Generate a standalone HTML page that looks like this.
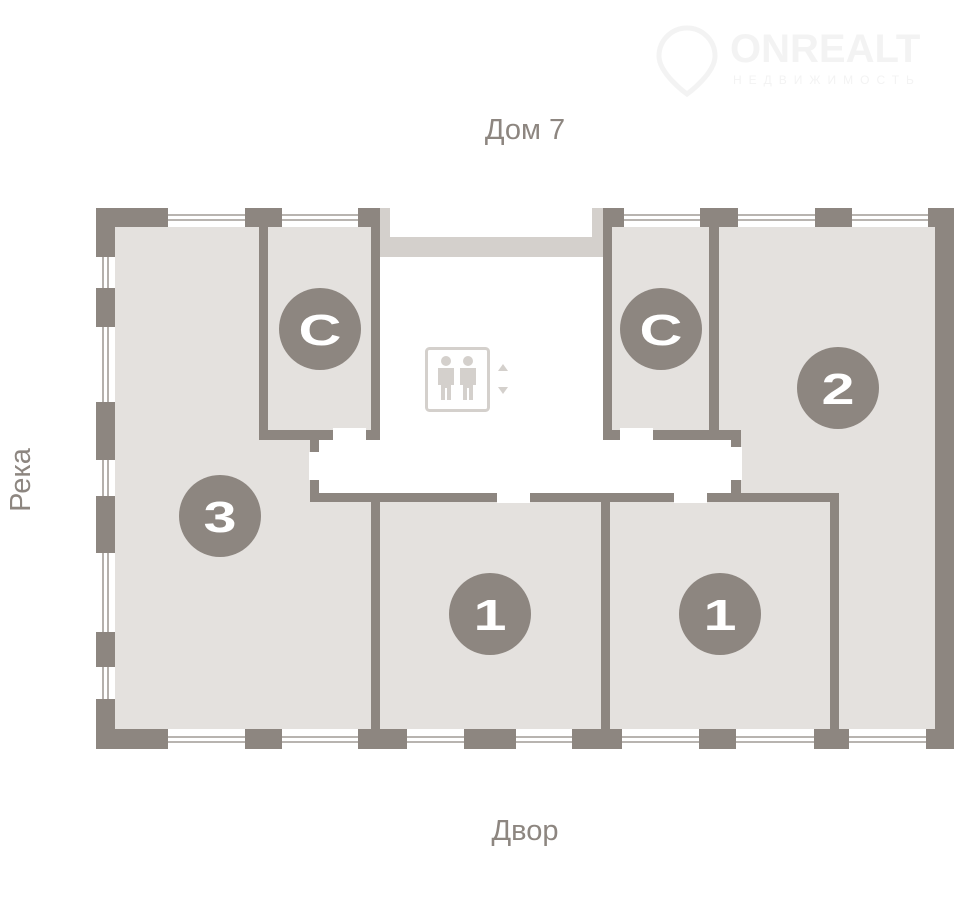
<!DOCTYPE html>
<html><head><meta charset="utf-8"><style>
html,body{margin:0;padding:0;background:#fff;}
svg{display:block;}
text{font-family:"Liberation Sans",sans-serif;}
</style></head><body>
<svg width="960" height="910" viewBox="0 0 960 910" xmlns="http://www.w3.org/2000/svg">
<!-- watermark -->
<g fill="#f3f3f3">
<text x="730" y="62" font-size="40" font-weight="bold">ONREALT</text>
<text x="733" y="84" font-size="12" letter-spacing="7">НЕДВИЖИМОСТЬ</text>
<path d="M687 28 a28 28 0 0 1 28 28 c0 18 -28 38 -28 38 c0 0 -28 -20 -28 -38 a28 28 0 0 1 28 -28z" fill="none" stroke="#f3f3f3" stroke-width="5"/>
</g>
<!-- labels -->
<text x="525" y="139" font-size="29" fill="#8d8680" text-anchor="middle">Дом 7</text>
<text x="525" y="840" font-size="29" fill="#8d8680" text-anchor="middle">Двор</text>
<text transform="translate(30,480) rotate(-90)" font-size="29" fill="#8d8680" text-anchor="middle">Река</text>

<!-- floor -->
<rect x="115" y="227" width="820" height="502" fill="#e4e1de"/>
<!-- white hall areas -->
<rect x="380" y="208" width="223" height="232" fill="#fff"/>
<rect x="319" y="440" width="412" height="53" fill="#fff"/>
<rect x="333" y="428" width="33" height="14" fill="#fff"/>
<rect x="620" y="428" width="33" height="14" fill="#fff"/>
<rect x="309" y="452" width="12" height="28" fill="#fff"/>
<rect x="730" y="447" width="12" height="33" fill="#fff"/>
<rect x="497" y="492" width="33" height="11" fill="#fff"/>
<rect x="674" y="492" width="33" height="11" fill="#fff"/>
<!-- gray band -->
<g fill="#d4d0cc">
<rect x="380" y="208" width="10" height="30"/>
<rect x="380" y="237" width="223" height="20"/>
<rect x="592" y="208" width="11" height="30"/>
</g>
<!-- window lines -->
<g stroke="#8d8680" stroke-width="1.3" fill="none">
<path d="M168 215H245M168 220H245M282 215H358M282 220H358M624 215H700M624 220H700M738 215H815M738 220H815M852 215H928M852 220H928"/>
<path d="M168 737H245M168 742H245M282 737H358M282 742H358M407 737H464M407 742H464M516 737H572M516 742H572M622 737H699M622 742H699M736 737H814M736 742H814M849 737H926M849 742H926"/>
<path d="M103 257V288M108 257V288M103 327V402M108 327V402M103 460V496M108 460V496M103 553V632M108 553V632M103 667V699M108 667V699"/>
</g>
<!-- walls -->
<g fill="#8d8680">
<rect x="96" y="208" width="19" height="49"/>
<rect x="96" y="288" width="19" height="39"/>
<rect x="96" y="402" width="19" height="58"/>
<rect x="96" y="496" width="19" height="57"/>
<rect x="96" y="632" width="19" height="35"/>
<rect x="96" y="699" width="19" height="50"/>
<rect x="96" y="208" width="72" height="19"/>
<rect x="245" y="208" width="37" height="19"/>
<rect x="358" y="208" width="22" height="19"/>
<rect x="603" y="208" width="21" height="19"/>
<rect x="700" y="208" width="38" height="19"/>
<rect x="815" y="208" width="37" height="19"/>
<rect x="928" y="208" width="26" height="19"/>
<rect x="935" y="208" width="19" height="541"/>
<rect x="96" y="729" width="72" height="20"/>
<rect x="245" y="729" width="37" height="20"/>
<rect x="358" y="729" width="49" height="20"/>
<rect x="464" y="729" width="52" height="20"/>
<rect x="572" y="729" width="50" height="20"/>
<rect x="699" y="729" width="37" height="20"/>
<rect x="814" y="729" width="35" height="20"/>
<rect x="926" y="729" width="28" height="20"/>
<!-- left C -->
<rect x="259" y="227" width="9" height="213"/>
<rect x="371" y="208" width="9" height="232"/>
<rect x="259" y="430" width="74" height="10"/>
<rect x="366" y="430" width="14" height="10"/>
<rect x="310" y="438" width="9" height="14"/>
<rect x="310" y="480" width="9" height="22"/>
<!-- middle horizontal -->
<rect x="310" y="493" width="187" height="9"/>
<rect x="530" y="493" width="144" height="9"/>
<rect x="707" y="493" width="132" height="9"/>
<rect x="371" y="493" width="9" height="236"/>
<rect x="601" y="493" width="9" height="236"/>
<rect x="830" y="493" width="9" height="236"/>
<!-- right C -->
<rect x="603" y="208" width="9" height="232"/>
<rect x="709" y="208" width="10" height="232"/>
<rect x="603" y="430" width="17" height="10"/>
<rect x="653" y="430" width="88" height="10"/>
<rect x="731" y="430" width="10" height="17"/>
<rect x="731" y="480" width="10" height="22"/>
</g>
<!-- badges -->
<g fill="#8d8680">
<circle cx="320" cy="329" r="41"/>
<circle cx="661" cy="329" r="41"/>
<circle cx="838" cy="388" r="41"/>
<circle cx="220" cy="516" r="41"/>
<circle cx="490" cy="614" r="41"/>
<circle cx="720" cy="614" r="41"/>
</g>
<g fill="#fff" font-weight="bold" text-anchor="middle" font-size="44">
<text x="320" y="345" transform="translate(320 0) scale(1.35 1) translate(-320 0)">C</text>
<text x="661" y="345" transform="translate(661 0) scale(1.35 1) translate(-661 0)">C</text>
<text x="838" y="404" transform="translate(838 0) scale(1.35 1) translate(-838 0)">2</text>
<text x="220" y="532" transform="translate(220 0) scale(1.35 1) translate(-220 0)">3</text>
<text x="490" y="630" transform="translate(490 0) scale(1.35 1) translate(-490 0)">1</text>
<text x="720" y="630" transform="translate(720 0) scale(1.35 1) translate(-720 0)">1</text>
</g>
<!-- elevator icon -->
<g fill="#d4d0cc" stroke="none">
<rect x="426.5" y="348.5" width="62" height="62" rx="3" fill="none" stroke="#d4d0cc" stroke-width="3"/>
<circle cx="446" cy="361" r="5"/>
<path d="M438 368h16v17h-3v15h-4v-12h-2v12h-4v-15h-3z"/>
<circle cx="468" cy="361" r="5"/>
<path d="M460 368h16v17h-3v15h-4v-12h-2v12h-4v-15h-3z"/>
<path d="M498 371l5-7 5 7z"/>
<path d="M498 387l5 7 5-7z"/>
</g>
</svg>
</body></html>
